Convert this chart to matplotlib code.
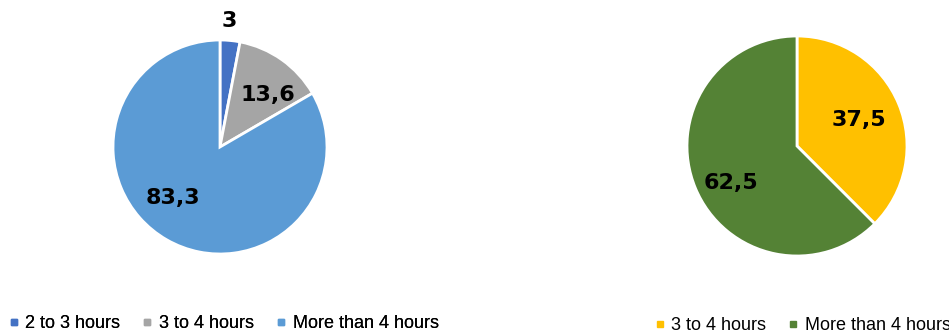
import matplotlib
matplotlib.use("Agg")
import matplotlib.pyplot as plt
from matplotlib.lines import Line2D

# data
left_labels = ['2 to 3 hours', '3 to 4 hours', 'More than 4 hours']
left_values = [3.0, 13.6, 83.3]
left_colors = ['#4472C4', '#A5A5A5', '#5B9BD5']

right_labels = ['3 to 4 hours', 'More than 4 hours']
right_values = [37.5, 62.5]
right_colors = ['#FFC000', '#548235']

W, H = 949, 332
fig = plt.figure(figsize=(W / 100, H / 100), dpi=100)

def px_axes(cx, cy, r):
    return fig.add_axes([(cx - r) / W, (H - cy - r) / H, 2 * r / W, 2 * r / H])

def fmt(v):
    s = f"{v:g}"
    return s.replace('.', ',')

def draw_pie(ax, values, colors, label_pos):
    wedges, _ = ax.pie(values, colors=colors, startangle=90, counterclock=False,
                       radius=1, wedgeprops=dict(edgecolor='white', linewidth=2))
    for v, (x, y) in zip(values, label_pos):
        ax.text(x, y, fmt(v), ha='center', va='center', fontsize=16,
                fontweight='heavy', color='black', family='DejaVu Sans')
    ax.set_xlim(-1.0, 1.0)
    ax.set_ylim(-1.0, 1.0)
    ax.set_aspect('equal')
    ax.axis('off')
    return wedges

# left pie: center (220,147), r=107
ax1 = px_axes(220, 147, 107)
draw_pie(ax1, left_values, left_colors,
         [(0.09, 1.18), (0.45, 0.49), (-0.44, -0.48)])

# right pie: center (797,146), r=110
ax2 = px_axes(797, 146, 110)
draw_pie(ax2, right_values, right_colors,
         [(0.56, 0.24), (-0.60, -0.34)])

def legend_handles(colors):
    return [Line2D([0], [0], marker='s', linestyle='none', markersize=5,
                   markerfacecolor=c, markeredgecolor=c) for c in colors]

leg1 = fig.legend(legend_handles(left_colors), left_labels, loc='center left',
                  bbox_to_anchor=(1 / W, 8.5 / H), ncol=3, frameon=False,
                  handlelength=0.6, handletextpad=0.35, columnspacing=1.2,
                  prop={'family': 'Liberation Sans', 'size': 13}, borderaxespad=0)
fig.add_artist(leg1)
fig.legend(legend_handles(right_colors), right_labels, loc='center left',
           bbox_to_anchor=(647 / W, 6.5 / H), ncol=2, frameon=False,
           handlelength=0.6, handletextpad=0.35, columnspacing=1.2,
           prop={'family': 'Liberation Sans', 'size': 13}, borderaxespad=0)

fig.savefig('out.png', dpi=100)
